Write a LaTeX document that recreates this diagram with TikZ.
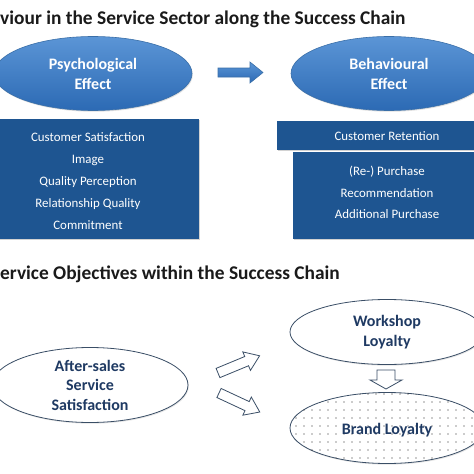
\documentclass[tikz,border=0pt]{standalone}
\usepackage{fontspec}
\setmainfont{Carlito}
\usetikzlibrary{shapes.geometric,shadows,patterns.meta}
\definecolor{elltop}{HTML}{5B95D6}
\definecolor{ellbot}{HTML}{2C6AB4}
\definecolor{elledge}{HTML}{3A6FA8}
\definecolor{boxblue}{HTML}{1E5591}
\definecolor{navy}{HTML}{1F3A63}
\definecolor{outl}{HTML}{3A4E66}
\definecolor{titlec}{HTML}{1A1A1A}
\begin{document}
\begin{tikzpicture}[x=1pt,y=-1pt,
  titletext/.style={anchor=base west,inner sep=0pt,text=titlec,font=\bfseries\fontsize{19.4}{22}\selectfont},
  blueell/.style={ellipse,inner sep=0pt,draw=elledge,line width=0.6pt,top color=elltop,bottom color=ellbot,
     drop shadow={shadow xshift=0.8pt,shadow yshift=-1.2pt,opacity=0.25},
     text=white,align=center,font=\bfseries\fontsize{16}{20}\selectfont},
  whiteell/.style={ellipse,inner sep=0pt,draw=outl,line width=0.8pt,fill=white,
     drop shadow={shadow xshift=0.8pt,shadow yshift=-1.2pt,opacity=0.2},
     text=navy,align=center,font=\bfseries\fontsize{16}{19.5}\selectfont},
  bluebox/.style={rectangle,inner sep=0pt,fill=boxblue,
     drop shadow={shadow xshift=1pt,shadow yshift=-1.2pt,opacity=0.35}},
  boxtext/.style={inner sep=0pt,text=white,align=center,font=\fontsize{12.9}{21.8}\selectfont},
  blockarrow/.style={draw=elledge,line width=0.6pt,top color=elltop,bottom color=ellbot},
  whitearrow/.style={draw=outl,line width=0.8pt,fill=white},
]
\useasboundingbox (0,0) rectangle (474,474);
\fill[white] (0,0) rectangle (474,474);

% titles
\node[titletext] (t1) at (0,24) {viour in the Service Sector along the Success Chain};
\node[titletext] (t2) at (0,279) {ervice Objectives within the Success Chain};

% top ellipses
\node[blueell,minimum width=198pt,minimum height=74pt] (psy) at (93,73.5) {Psychological\\Effect};
\node[blueell,minimum width=196pt,minimum height=74pt] (beh) at (389,73.5) {Behavioural\\Effect};

% top arrow
\path[blockarrow] (218,68) -- (250,68) -- (250,62) -- (263,72.5) -- (250,83) -- (250,77) -- (218,77) -- cycle;

% boxes
\node[bluebox,minimum width=223pt,minimum height=120pt] (lbox) at (87.5,179) {};
\node[boxtext] (ltext) at (88,181) {Customer Satisfaction\\Image\\Quality Perception\\Relationship Quality\\Commitment};
\node[bluebox,minimum width=223pt,minimum height=29pt] (rbox1) at (388.5,135.5) {};
\node[boxtext] (rtext1) at (387,136) {Customer Retention};
\node[bluebox,minimum width=188pt,minimum height=87pt] (rbox2) at (387,195.5) {};
\node[boxtext] (rtext2) at (387,192.5) {(Re-) Purchase\\Recommendation\\Additional Purchase};

% lower ellipses
\node[whiteell,minimum width=196pt,minimum height=75pt] (after) at (90,385) {After-sales\\Service\\Satisfaction};
\node[whiteell,minimum width=194pt,minimum height=65pt] (work) at (387,332) {Workshop\\Loyalty};
\node[whiteell,minimum width=194pt,minimum height=71pt,
      postaction={pattern={Dots[distance=8pt,radius=0.7pt]},pattern color=black!85}] (brand) at (387,428) {};
\node[inner sep=0pt,text=navy,font=\bfseries\fontsize{16}{19.5}\selectfont] (brandt) at (387,430) {Brand Loyalty};

% white block arrows
\begin{scope}[shift={(218,373)},rotate=22.5]
\path[whitearrow] (0,-5) -- (31,-5) -- (31,-10) -- (45,0) -- (31,10) -- (31,5) -- (0,5) -- cycle;
\end{scope}
\begin{scope}[shift={(219,393)},rotate=-25]
\path[whitearrow] (0,-5) -- (31,-5) -- (31,-10) -- (45,0) -- (31,10) -- (31,5) -- (0,5) -- cycle;
\end{scope}
\path[whitearrow] (377,370) -- (395,370) -- (395,380) -- (402,380) -- (386,389) -- (370,380) -- (377,380) -- cycle;
\end{tikzpicture}
\end{document}
